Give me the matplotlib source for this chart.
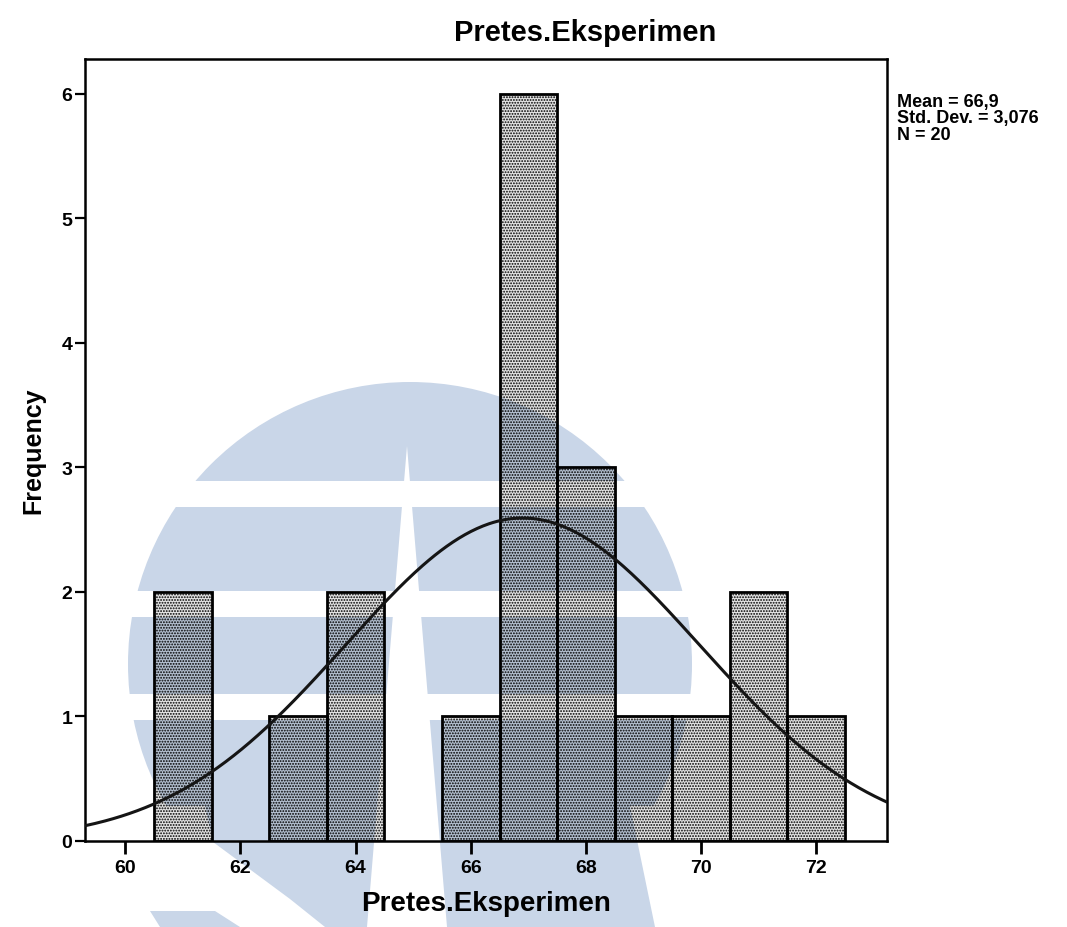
import numpy as np
import matplotlib
matplotlib.use("Agg")
import matplotlib.pyplot as plt
from matplotlib.patches import Circle, Rectangle, Polygon

# Pretest scores of the experiment group and their frequencies
scores = [61, 63, 64, 66, 67, 68, 69, 70, 71, 72]
freq = [2, 1, 2, 1, 6, 3, 1, 1, 2, 1]
x_ticks = [60, 62, 64, 66, 68, 70, 72]
y_ticks = [0, 1, 2, 3, 4, 5, 6]
var_name = "Pretes.Eksperimen"

NARROW = ["Liberation Sans Narrow", "Liberation Sans", "DejaVu Sans"]
WIDE = ["Liberation Sans", "DejaVu Sans"]

plt.rcParams["hatch.linewidth"] = 0.9
plt.rcParams["hatch.color"] = "#111111"

# summary statistics (SPSS style, comma decimals)
vals = np.repeat(scores, freq)
n = len(vals)
mean = vals.mean()
sd = vals.std(ddof=1)

W, H = 1067, 928
fig = plt.figure(figsize=(W / 100, H / 100), dpi=100)

# faint logo stamped across the page, in pixel coordinates
bg = fig.add_axes([0, 0, 1, 1], zorder=0)
bg.set_xlim(0, W)
bg.set_ylim(H, 0)
bg.axis("off")
wm = "#c9d6e8"
bg.add_patch(Circle((410, 665), 282, color=wm, lw=0))
bg.add_patch(Rectangle((0, 807), W, H - 807, color="white", lw=0))
bg.add_patch(Polygon([(205, 807), (630, 807), (655, 928), (325, 928),
                      (290, 900), (213, 843)], closed=True, color=wm, lw=0))
bg.add_patch(Polygon([(150, 912), (215, 912), (240, 928), (160, 928)],
                     closed=True, color=wm, lw=0))
for y0, y1 in [(482, 508), (592, 618), (695, 721)]:
    bg.add_patch(Rectangle((0, y0), W, y1 - y0, color="white", lw=0))
bg.add_patch(Polygon([(407, 447), (447, 928), (367, 928)], closed=True,
                     color="white", lw=0))

ax = fig.add_axes([85 / W, 1 - 842 / H, 802 / W, 782 / H], zorder=1)
ax.set_facecolor("none")

ax.bar(scores, freq, width=1.0, facecolor=(0, 0, 0, 0.11), edgecolor="black",
       linewidth=2.0, hatch="......", zorder=2)

xlim = (59.3, 73.23)
xs = np.linspace(xlim[0], xlim[1], 400)
curve = n * 1.0 / (sd * np.sqrt(2 * np.pi)) * np.exp(-0.5 * ((xs - mean) / sd) ** 2)
ax.plot(xs, curve, color="#151515", lw=2.2, zorder=3)

ax.set_xlim(*xlim)
ax.set_ylim(0, 6.28)
ax.set_xticks(x_ticks)
ax.set_yticks(y_ticks)
for s in ax.spines.values():
    s.set_linewidth(1.8)
ax.tick_params(axis="x", direction="out", length=9, width=2, pad=4)
ax.tick_params(axis="y", direction="out", length=7, width=1.6, pad=2)
for lab in ax.get_xticklabels() + ax.get_yticklabels():
    lab.set_family(NARROW)
    lab.set_fontweight("bold")
    lab.set_fontsize(14)

ax.set_xlabel(var_name, family=WIDE, fontweight="bold", fontsize=20, labelpad=10)
ax.set_ylabel("Frequency", family=WIDE, fontweight="bold", fontsize=18, labelpad=12)

fig.text(585 / W, 1 - 33 / H, var_name, family=NARROW, fontweight="bold",
         fontsize=21, ha="center", va="center")

stats = "Mean = {}\nStd. Dev. = {}\nN = {}".format(
    f"{mean:.1f}".replace(".", ","), f"{sd:.3f}".replace(".", ","), n)
fig.text(897 / W, 1 - 94 / H, stats, family=NARROW, fontweight="bold",
         fontsize=13, ha="left", va="top", linespacing=0.95)

fig.savefig("out.png", dpi=100, facecolor="white")
